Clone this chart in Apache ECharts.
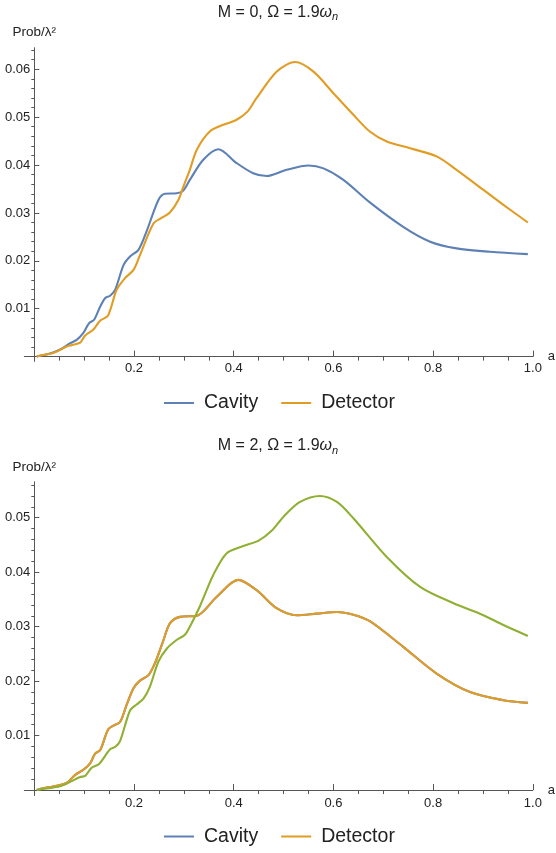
<!DOCTYPE html>
<html><head><meta charset="utf-8">
<script src="https://cdn.jsdelivr.net/npm/echarts@6/dist/echarts.min.js"></script>
<style>html,body{margin:0;padding:0;background:#fff}#c{width:556px;height:853px}</style>
</head><body><div id="c"></div><script>
// ---- Panel 1: M = 0 ----
const aCav0 = [0.005,0.011,0.030,0.052,0.072,0.085,0.098,0.110,0.120,0.132,0.142,0.152,0.162,0.179,0.192,0.209,0.225,0.249,0.262,0.286,0.299,0.312,0.339,0.369,0.406,0.439,0.466,0.506,0.550,0.580,0.620,0.673,0.740,0.794,0.847,0.914,0.990];
const pCav0 = [0,0.0002,0.0006,0.0015,0.0028,0.0035,0.0049,0.0070,0.0077,0.0104,0.0122,0.0127,0.0139,0.0191,0.0209,0.0223,0.0261,0.0327,0.0340,0.0341,0.0347,0.0369,0.0411,0.0433,0.0404,0.0383,0.0377,0.0390,0.0399,0.0393,0.0369,0.0322,0.0271,0.0240,0.0226,0.0219,0.0214];
const aDet0 = [0.005,0.011,0.039,0.065,0.075,0.092,0.102,0.118,0.132,0.148,0.165,0.182,0.199,0.212,0.239,0.256,0.272,0.289,0.299,0.312,0.326,0.352,0.379,0.405,0.428,0.446,0.486,0.523,0.560,0.600,0.640,0.673,0.707,0.754,0.807,0.847,0.901,0.941,0.990];
const pDet0 = [0,0.0002,0.0008,0.0021,0.0024,0.0029,0.0044,0.0056,0.0075,0.0086,0.0139,0.0164,0.0181,0.0212,0.0278,0.0290,0.0301,0.0327,0.0355,0.0390,0.0432,0.0470,0.0484,0.0494,0.0512,0.0540,0.0595,0.0615,0.0595,0.0550,0.0505,0.0470,0.0449,0.0435,0.0418,0.0390,0.0348,0.0317,0.0280];

// ---- Panel 2: M = 2 ----
const aCav2 = [0.005,0.011,0.045,0.065,0.082,0.098,0.112,0.122,0.132,0.148,0.158,0.172,0.185,0.199,0.212,0.229,0.242,0.259,0.272,0.292,0.326,0.366,0.409,0.446,0.486,0.526,0.567,0.607,0.640,0.673,0.740,0.807,0.874,0.941,0.990];
const pCav2 = [0,0.0002,0.0008,0.0013,0.0028,0.0037,0.0049,0.0067,0.0073,0.0111,0.0118,0.0125,0.0156,0.0187,0.0201,0.0211,0.0233,0.0275,0.0306,0.0318,0.0320,0.0355,0.0386,0.0367,0.0334,0.0321,0.0324,0.0327,0.0322,0.0310,0.0263,0.0214,0.0180,0.0165,0.0160];
const aDet2 = [0.005,0.011,0.045,0.065,0.082,0.098,0.112,0.122,0.132,0.148,0.158,0.172,0.185,0.199,0.212,0.229,0.242,0.259,0.272,0.292,0.326,0.366,0.409,0.446,0.486,0.526,0.567,0.607,0.640,0.673,0.740,0.807,0.874,0.941,0.990];
const pDet2 = [0,0.0002,0.0008,0.0013,0.0028,0.0037,0.0049,0.0067,0.0073,0.0111,0.0118,0.0125,0.0156,0.0187,0.0201,0.0211,0.0233,0.0275,0.0306,0.0318,0.0320,0.0355,0.0386,0.0367,0.0334,0.0321,0.0324,0.0327,0.0322,0.0310,0.0263,0.0214,0.0180,0.0165,0.0160];
const aOth2 = [0.005,0.011,0.052,0.072,0.092,0.102,0.115,0.130,0.152,0.162,0.172,0.192,0.205,0.219,0.232,0.249,0.266,0.286,0.302,0.312,0.332,0.359,0.386,0.419,0.450,0.476,0.500,0.533,0.573,0.607,0.640,0.707,0.774,0.841,0.901,0.941,0.990];
const pOth2 = [0,0.0001,0.0007,0.0015,0.0024,0.0026,0.0041,0.0048,0.0075,0.0079,0.0090,0.0146,0.0157,0.0168,0.0190,0.0236,0.0260,0.0276,0.0285,0.0300,0.0337,0.0395,0.0435,0.0448,0.0458,0.0476,0.0502,0.0529,0.0540,0.0529,0.0499,0.0428,0.0373,0.0343,0.0321,0.0303,0.0283];

// ---- ticks ----
const xTickLabels = [0.2,0.4,0.6,0.8,1.0];
const xMinorTicks = [0.05,0.1,0.15,0.25,0.3,0.35,0.45,0.5,0.55,0.65,0.7,0.75,0.85,0.9,0.95];
const yTickLabels0 = [0.01,0.02,0.03,0.04,0.05,0.06];
const yMinorTicks0 = [0.002,0.004,0.006,0.008,0.012,0.014,0.016,0.018,0.022,0.024,0.026,0.028,0.032,0.034,0.036,0.038,0.042,0.044,0.046,0.048,0.052,0.054,0.056,0.058,0.062,0.064];
const yTickLabels2 = [0.01,0.02,0.03,0.04,0.05];
const yMinorTicks2 = [0.002,0.004,0.006,0.008,0.012,0.014,0.016,0.018,0.022,0.024,0.026,0.028,0.032,0.034,0.036,0.038,0.042,0.044,0.046,0.048,0.052,0.054,0.056];

const titles = ['M = 0, Ω = 1.9', 'M = 2, Ω = 1.9'];
const legendNames = ['Cavity', 'Detector'];

const zip = (a, p) => a.map((v, i) => [v, p[i]]);
const C_BLUE = '#5E81B5', C_ORANGE = '#E19C24', C_GREEN = '#8FB032';
const AX = '#555', TXT = '#222';
const FONT = 'Liberation Sans, Arial, sans-serif';

function xAxes(grid, onIdx) {
  return [
    { type: 'value', gridIndex: grid, min: -0.02, max: 1.0,
      name: 'a', nameLocation: 'end', nameGap: 15,
      nameTextStyle: { fontSize: 13, color: TXT, fontFamily: FONT, padding: [0,0,5,0] },
      axisLine: { onZero: true, onZeroAxisIndex: onIdx, lineStyle: { color: AX, width: 1 } },
      axisTick: { inside: true, length: 6, customValues: xTickLabels, lineStyle: { color: AX } },
      axisLabel: { customValues: xTickLabels, margin: 1, fontSize: 13, color: TXT, fontFamily: FONT,
                   formatter: v => v.toFixed(1) },
      splitLine: { show: false } },
    { type: 'value', gridIndex: grid, min: -0.02, max: 1.0,
      axisLine: { show: true, onZero: true, onZeroAxisIndex: onIdx, lineStyle: { opacity: 0 } },
      axisTick: { inside: true, length: 4, customValues: xMinorTicks, lineStyle: { color: AX } },
      axisLabel: { show: false }, splitLine: { show: false } }
  ];
}
function yAxes(grid, onIdx, max, labels, minors) {
  return [
    { type: 'value', gridIndex: grid, min: -0.001, max: max,
      name: 'Prob/λ²', nameLocation: 'end', nameGap: 8,
      nameTextStyle: { fontSize: 13.5, color: TXT, fontFamily: FONT, align: 'center' },
      axisLine: { onZero: true, onZeroAxisIndex: onIdx, lineStyle: { color: AX, width: 1 } },
      axisTick: { inside: true, length: 5, customValues: labels, lineStyle: { color: AX } },
      axisLabel: { customValues: labels, margin: -6, fontSize: 13, color: TXT, fontFamily: FONT,
                   formatter: v => v.toFixed(2) },
      splitLine: { show: false } },
    { type: 'value', gridIndex: grid, min: -0.001, max: max,
      axisLine: { show: true, onZero: true, onZeroAxisIndex: onIdx, lineStyle: { opacity: 0 } },
      axisTick: { inside: true, length: 3, customValues: minors, lineStyle: { color: AX } },
      axisLabel: { show: false }, splitLine: { show: false } }
  ];
}
function line(name, data, color, xi, yi) {
  return { type: 'line', name, data, xAxisIndex: xi, yAxisIndex: yi,
    showSymbol: false, symbol: 'none', smooth: 0.3,
    lineStyle: { color, width: 2.1 }, itemStyle: { color }, z: 3 };
}
function titleOf(t, top) {
  return { text: '{a|' + t + '}{w|ω}{n|n}', left: 'center', top, padding: 0,
    textStyle: { fontWeight: 'normal', rich: {
      a: { fontSize: 16, color: TXT, fontFamily: FONT, fontWeight: 'normal', lineHeight: 20 },
      w: { fontSize: 16, color: TXT, fontFamily: FONT, fontWeight: 'normal', fontStyle: 'italic', lineHeight: 20 },
      n: { fontSize: 11, color: TXT, fontFamily: FONT, fontWeight: 'normal', fontStyle: 'italic', lineHeight: 12, verticalAlign: 'bottom' }
    } } };
}
function legendOf(top) {
  return { data: legendNames, left: 164, top, padding: 0, icon: 'rect', itemWidth: 30, itemHeight: 2, itemGap: 23,
    selectedMode: false,
    textStyle: { fontSize: 19.5, color: TXT, fontFamily: FONT, padding: [0,0,0,5] } };
}

const chart = echarts.init(document.getElementById('c'), null, { renderer: 'canvas' });
chart.setOption({
  animation: false,
  backgroundColor: '#fff',
  title: [titleOf(titles[0], 2.5), titleOf(titles[1], 436)],
  legend: [legendOf(393), legendOf(826.5)],
  grid: [
    { left: 24.33, top: 47.7, width: 508.5, height: 313.7, containLabel: false, outerBoundsMode: 'none' },
    { left: 24.33, top: 481.8, width: 508.5, height: 313.7, containLabel: false, outerBoundsMode: 'none' }
  ],
  xAxis: [...xAxes(0, 0), ...xAxes(1, 2)],
  yAxis: [...yAxes(0, 0, 0.0645, yTickLabels0, yMinorTicks0), ...yAxes(1, 2, 0.0566, yTickLabels2, yMinorTicks2)],
  series: [
    line(legendNames[0], zip(aCav0, pCav0), C_BLUE, 0, 0),
    line(legendNames[1], zip(aDet0, pDet0), C_ORANGE, 0, 0),
    line(legendNames[0], zip(aCav2, pCav2), C_BLUE, 2, 2),
    line(legendNames[1], zip(aDet2, pDet2), C_ORANGE, 2, 2),
    line('Other', zip(aOth2, pOth2), C_GREEN, 2, 2)
  ]
});
</script></body></html>
